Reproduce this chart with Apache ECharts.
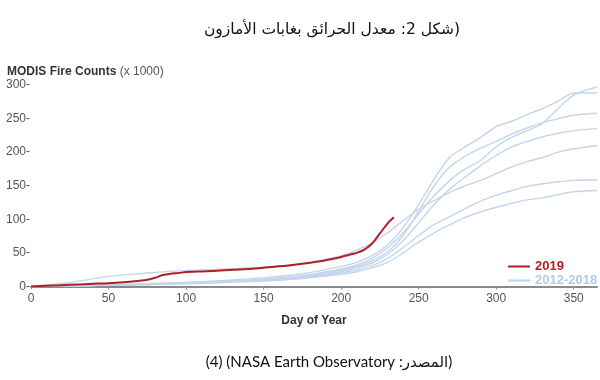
<!DOCTYPE html>
<html>
<head>
<meta charset="utf-8">
<script src="https://cdn.jsdelivr.net/npm/echarts@6/dist/echarts.min.js"></script>
<style>html,body{margin:0;padding:0;background:#fff}#c{width:600px;height:380px}</style>
</head>
<body>
<div id="c"></div>
<script>
// ---- data ----
const titleLogical = "(شكل 2: معدل الحرائق بغابات الأمازون";
const sourceText = "(4) (NASA Earth Observatory :المصدر)";
const yTitleBold = "MODIS Fire Counts";
const yTitleNormal = " (x 1000)";
const xTitle = "Day of Year";
const xTicks = [0, 50, 100, 150, 200, 250, 300, 350];
const yTicks = [0, 50, 100, 150, 200, 250, 300];

const redName = "2019";
const blueName = "2012-2018";

const redDays = [0,10,20,30,40,50,60,70,75,80,85,90,95,100,110,120,130,140,150,160,170,180,190,200,205,210,215,220,225,230,234];
const redVals = [0,1,2,3,4,5,6.5,8.5,10,13,17,19,20,21.5,22.5,23.5,25,26,28,30,32.5,35.5,39,44,47,50,55,64,79,94,103];

const blueDays = [0,25,50,75,100,125,150,175,200,210,220,230,240,250,260,270,280,290,300,310,320,330,340,350,365];
const blueA = [0,1,2,4,6,8,11,16,26,32,42,58,80,108,135,158,175,188,208,222,232,243,265,285,297];
const blueB = [0,1,2,4,6,9,13,19,30,36,46,62,88,122,160,192,208,222,238,246,256,265,276,288,288];
const blueC = [0,1,2,3,5,7,10,15,24,30,38,52,76,112,150,178,194,206,216,227,236,244,250,255,258];
const blueD = [0,1,2,3,5,7,10,14,22,28,35,48,68,95,122,145,163,180,195,208,216,223,228,232,235];
const blueE = [0,6,15,20,24,26,29,34,46,54,65,80,98,115,128,140,150,158,168,178,186,192,200,205,210];
const blueF = [0,1,2,3,5,7,9,13,20,25,31,42,58,76,92,104,116,127,136,143,149,153,156,158,159];
const blueG = [0,1,2,3,4,6,8,12,18,22,28,36,50,66,80,92,103,111,118,124,129,132,137,141,143];
const blueSets = [blueA, blueB, blueC, blueD, blueE, blueF, blueG];

// ---- chart ----
const RED = '#b01f27';
const BLUE = '#c3d6ec';
const pair = (xs, ys) => xs.map((x, i) => [x, ys[i]]);
// right-to-left isolate so the caption reads as an Arabic line
const titleText = '\u2067' + titleLogical + '\u2069';

const series = blueSets.map(vals => ({
  name: blueName, type: 'line', data: pair(blueDays, vals),
  smooth: 0.3, showSymbol: false, symbol: 'none',
  lineStyle: { color: BLUE, width: 1.4 }, itemStyle: { color: BLUE },
  z: 2, silent: true
}));
series.push({
  name: redName, type: 'line', data: pair(redDays, redVals),
  smooth: 0.3, showSymbol: false, symbol: 'none',
  lineStyle: { color: RED, width: 2 }, itemStyle: { color: RED },
  z: 5, silent: true
});

const chart = echarts.init(document.getElementById('c'), null, { renderer: 'canvas' });
chart.setOption({
  animation: false,
  backgroundColor: '#fff',
  title: [
    { text: titleText, left: 327, top: 17, textAlign: 'center',
      textStyle: { fontFamily: 'DejaVu Sans', fontSize: 15.5, fontWeight: 'normal', color: '#111' } },
    { text: '{b|' + yTitleBold + '}{n|' + yTitleNormal + '}', left: 2, top: 61,
      textStyle: { rich: {
        b: { fontFamily: 'Liberation Sans', fontSize: 12, fontWeight: 'bold', color: '#333' },
        n: { fontFamily: 'Liberation Sans', fontSize: 12, fontWeight: 'normal', color: '#555' } } } },
    { text: sourceText, left: 324, top: 350, textAlign: 'center',
      textStyle: { fontFamily: 'Lato, DejaVu Sans', fontSize: 15, fontWeight: 'normal', color: '#111' } }
  ],
  legend: {
    orient: 'vertical', left: 503, top: 255, itemGap: 1,
    itemWidth: 22, itemHeight: 2, icon: 'rect',
    data: [
      { name: redName, textStyle: { color: RED } },
      { name: blueName, textStyle: { color: '#b5cbe5' } }
    ],
    textStyle: { fontFamily: 'Liberation Sans', fontSize: 13, fontWeight: 'bold' },
    selectedMode: false
  },
  grid: { left: 31, right: 3, top: 85, bottom: 93.5, containLabel: false },
  xAxis: {
    type: 'value', min: 0, max: 365,
    name: xTitle, nameLocation: 'middle', nameGap: 28,
    nameTextStyle: { fontFamily: 'Liberation Sans', fontSize: 12, fontWeight: 'bold', color: '#333' },
    axisLine: { show: true, lineStyle: { color: '#8a8a8a', width: 2 } },
    axisTick: { show: true, length: 3, customValues: xTicks, lineStyle: { color: '#999' } },
    axisLabel: { customValues: xTicks, margin: 6, fontFamily: 'Liberation Sans', fontSize: 12, color: '#555' },
    splitLine: { show: false }
  },
  yAxis: {
    type: 'value', min: 0, max: 300, interval: 50,
    axisLine: { show: false },
    axisTick: { show: false },
    axisLabel: { margin: 1, fontFamily: 'Liberation Sans', fontSize: 12, color: '#555',
      formatter: v => v + '-' },
    splitLine: { show: false }
  },
  series: series
});
</script>
</body>
</html>
